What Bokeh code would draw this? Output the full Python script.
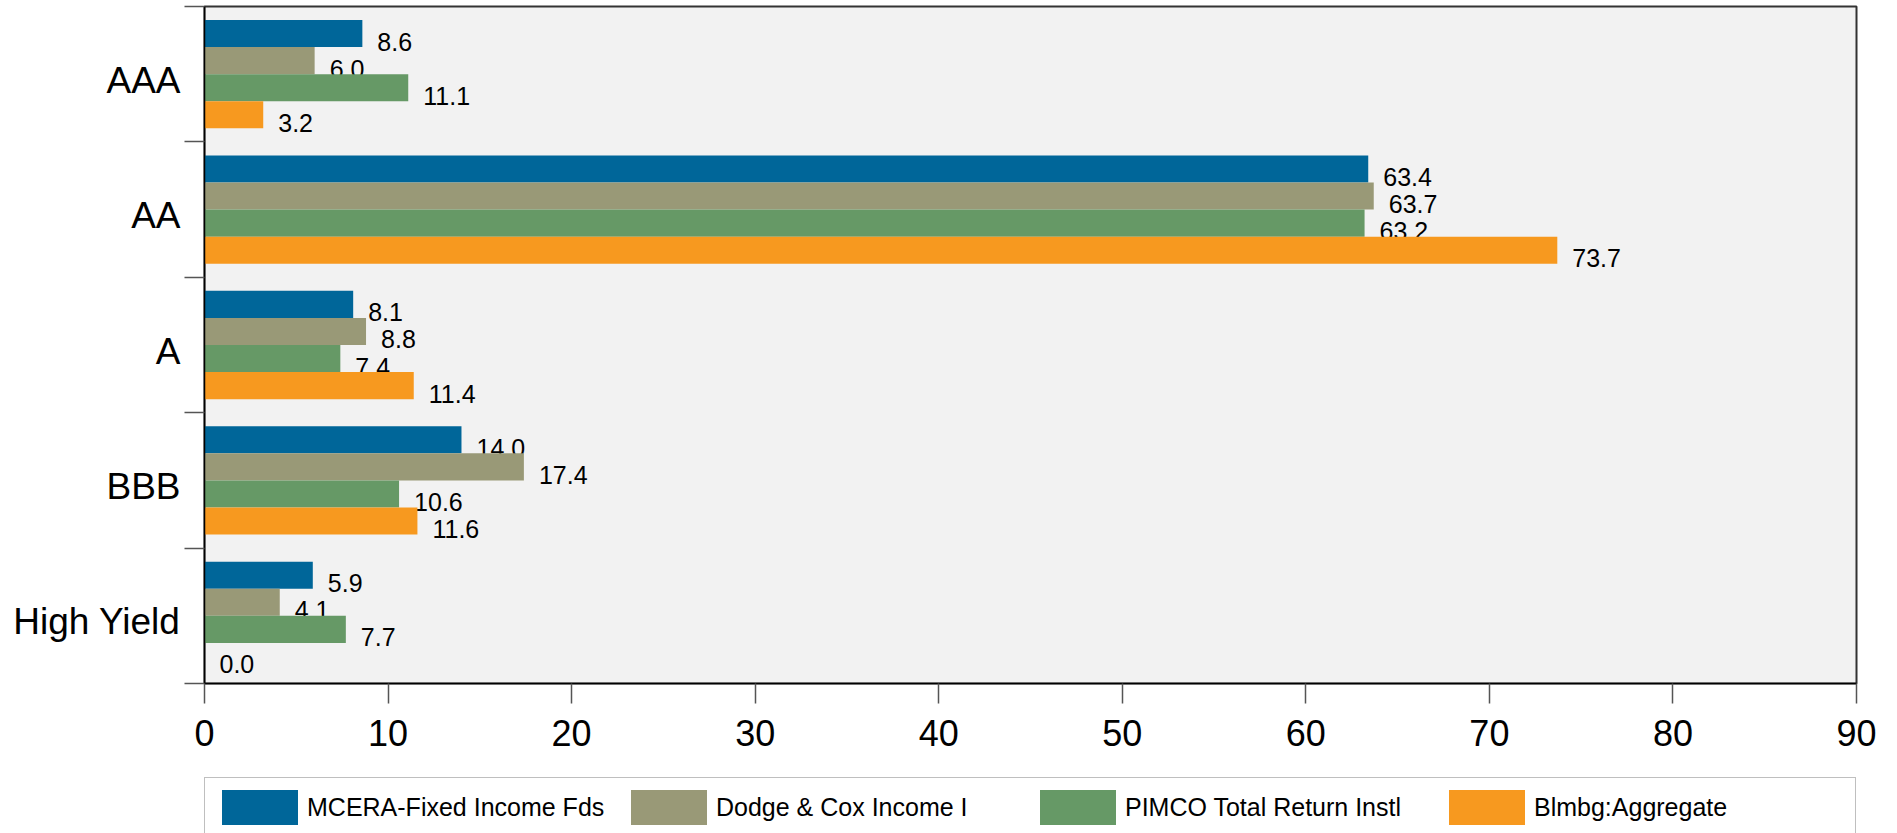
from bokeh.plotting import figure
from bokeh.layouts import column
from bokeh.models import (ColumnDataSource, Range1d, FixedTicker, Legend, LegendItem)
from bokeh.transform import dodge
from bokeh.core.properties import value
from bokeh.embed import file_html
from bokeh.resources import INLINE

# ---- data ----
categories = ["AAA", "AA", "A", "BBB", "High Yield"]
series_names = ["MCERA-Fixed Income Fds", "Dodge & Cox Income I",
                "PIMCO Total Return Instl", "Blmbg:Aggregate"]
mcera = [8.6, 63.4, 8.1, 14.0, 5.9]
dodge_cox = [6.0, 63.7, 8.8, 17.4, 4.1]
pimco = [11.1, 63.2, 7.4, 10.6, 7.7]
blmbg = [3.2, 73.7, 11.4, 11.6, 0.0]
x_ticks = [0, 10, 20, 30, 40, 50, 60, 70, 80, 90]

series_values = [mcera, dodge_cox, pimco, blmbg]
colors = ["#006699", "#999977", "#669966", "#f7991f"]
offsets = [0.3, 0.1, -0.1, -0.3]

FONT = "Liberation Sans"
n = len(categories)
ypos = [n - 1 - i for i in range(n)]  # first category at top
label_pos = [yp - 0.045 for yp in ypos]  # category labels sit slightly low

p = figure(width=1897, height=757,
           x_range=Range1d(0, 90), y_range=Range1d(-0.5, n - 0.5),
           output_backend="svg", toolbar_location=None,
           min_border_left=204, min_border_right=41,
           min_border_top=6, min_border_bottom=74,
           background_fill_color="#f2f2f2", border_fill_color="white",
           outline_line_color="#333333", outline_line_width=2)

p.xgrid.visible = False
p.ygrid.visible = False

# x axis
xa = p.xaxis[0]
xa.ticker = FixedTicker(ticks=x_ticks)
xa.major_tick_out = 20
xa.major_tick_in = 0
xa.major_tick_line_color = "#555555"
xa.major_tick_line_width = 1.5
xa.minor_tick_line_color = None
xa.axis_line_color = "black"
xa.axis_line_width = 1.5
xa.major_label_standoff = 16
xa.major_label_text_font = FONT
xa.major_label_text_font_size = "36px"
xa.major_label_text_color = "black"

# y axis: labels at category centres, ticks at category boundaries
ya = p.yaxis[0]
ya.ticker = FixedTicker(ticks=label_pos,
                        minor_ticks=[k - 0.5 for k in range(n + 1)])
ya.major_label_overrides = {lp: c for lp, c in zip(label_pos, categories)}
ya.major_tick_line_color = None
ya.major_tick_out = 20
ya.major_tick_in = 0
ya.minor_tick_out = 20
ya.minor_tick_in = 0
ya.minor_tick_line_color = "#555555"
ya.minor_tick_line_width = 1.5
ya.axis_line_color = "black"
ya.axis_line_width = 1.5
ya.major_label_standoff = 4
ya.major_label_text_font = FONT
ya.major_label_text_font_size = "37px"
ya.major_label_text_color = "black"

for name, vals, col, off in zip(series_names, series_values, colors, offsets):
    src = ColumnDataSource(dict(y=ypos, v=vals, lbl=[f"{v:.1f}" for v in vals]))
    p.hbar(y=dodge("y", off), left=0, right="v", height=0.2,
           fill_color=col, line_color=None, source=src)
    p.text(x="v", y=dodge("y", off), text="lbl", source=src,
           x_offset=15, y_offset=8, text_baseline="middle", text_align="left",
           text_font=value(FONT), text_font_size="25px", text_color="black")

# ---- legend strip (separate figure below the chart) ----
p2 = figure(width=1897, height=76, x_range=Range1d(0, 1), y_range=Range1d(0, 1),
            output_backend="svg", toolbar_location=None,
            x_axis_type=None, y_axis_type=None,
            min_border_left=204, min_border_right=41,
            min_border_top=20, min_border_bottom=0,
            background_fill_color="white", border_fill_color="white",
            outline_line_color=None)
p2.xgrid.visible = False
p2.ygrid.visible = False

items = []
for name, col in zip(series_names, colors):
    # off-range proxy renderer, only used to draw the legend swatch
    r = p2.hbar(y=[-5], right=[0], left=0, height=0.2,
                fill_color=col, line_color=None)
    items.append(LegendItem(label=name, renderers=[r]))

legend = Legend(items=items, orientation="horizontal", location="top_left",
                glyph_width=95, glyph_height=44, label_standoff=-1,
                label_width=314, spacing=0, padding=7, margin=0,
                border_line_color="#7f7f7f", border_line_width=1.5,
                background_fill_color="white", background_fill_alpha=1.0,
                label_text_font=FONT, label_text_font_size="25px",
                label_text_color="black")
p2.add_layout(legend)

layout = column(p, p2, spacing=0)
open("out.html", "w").write(file_html(layout, INLINE))
